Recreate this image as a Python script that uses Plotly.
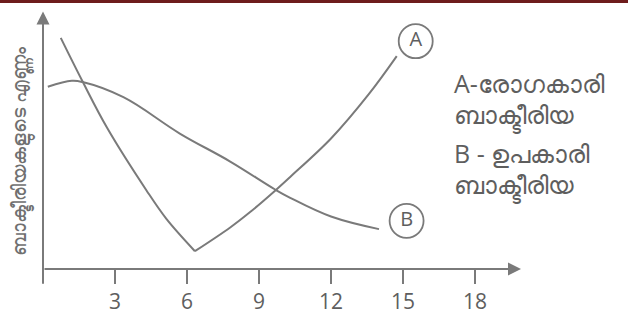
import plotly.graph_objects as go

# Days on the x axis, relative bacteria count on the y axis
day_ticks = [3, 6, 9, 12, 15, 18]

days_A = [0.74, 1.65, 2.67, 4.32, 5.15, 6.33, 7.8, 8.63, 9.67, 10.3, 12.0, 13.6, 14.74]
count_A = [9.74, 7.9, 5.95, 3.3, 2.1, 0.75, 1.75, 2.4, 3.3, 3.88, 5.5, 7.4, 8.97]

days_B = [0.2, 1.2, 1.65, 3.35, 5.7, 7.8, 9.67, 10.3, 12.0, 14.0]
count_B = [7.68, 7.93, 7.88, 7.24, 5.71, 4.53, 3.35, 3.0, 2.21, 1.68]

curve_labels = ["A", "B"]
label_days = [15.53, 15.15]
label_counts = [9.6, 2.03]

y_title = "ബാക്ടീരിയകളുടെ എണ്ണം"
key_lines = ["A-രോഗകാരി", "ബാക്ടീരിയ", "B - ഉപകാരി", "ബാക്ടീരിയ"]
key_rows = [7.83, 6.46, 4.88, 3.5]

INK = "#7a7a7a"
TEXT = "#5e5e5e"
FONT = "Open Sans, Noto Sans, DejaVu Sans, sans-serif"

X_MAX = 19.917
Y_MAX = 11.0

fig = go.Figure()

# Curve A has a sharp minimum, so draw its falling and rising parts separately
i_min = count_A.index(min(count_A))
for xs, ys in [(days_A[: i_min + 1], count_A[: i_min + 1]),
               (days_A[i_min:], count_A[i_min:])]:
    fig.add_trace(go.Scatter(x=xs, y=ys, mode="lines",
                             line=dict(color=INK, width=2, shape="spline", smoothing=1.0),
                             hoverinfo="skip", showlegend=False))

fig.add_trace(go.Scatter(x=days_B, y=count_B, mode="lines",
                         line=dict(color=INK, width=2, shape="spline", smoothing=1.1),
                         hoverinfo="skip", showlegend=False))

# Circled curve labels
fig.add_trace(go.Scatter(x=label_days, y=label_counts, mode="markers+text",
                         text=curve_labels, textposition="middle center",
                         textfont=dict(family=FONT, size=20, color=TEXT),
                         marker=dict(symbol="circle-open", size=34,
                                     line=dict(color=INK, width=1.8), color=INK),
                         hoverinfo="skip", showlegend=False, cliponaxis=False))

annotations = []
# x axis with arrowhead
annotations.append(dict(x=X_MAX, y=0, ax=0, ay=0, xref="x", yref="y", axref="x", ayref="y",
                        showarrow=True, arrowhead=2, arrowsize=1.3, arrowwidth=2,
                        arrowcolor=INK, text=""))
# y axis with arrowhead, extending a little below the x axis
annotations.append(dict(x=0, y=Y_MAX - 0.15, ax=0, ay=-0.68, xref="x", yref="y", axref="x", ayref="y",
                        showarrow=True, arrowhead=2, arrowsize=1.3, arrowwidth=2,
                        arrowcolor=INK, text=""))
# rotated y axis title
annotations.append(dict(x=-0.046, y=0.45, xref="paper", yref="paper", text=y_title, textangle=-90,
                        xanchor="center", yanchor="middle", showarrow=False,
                        font=dict(family=FONT, size=19, color="#707070")))
# key text on the right
for line, row in zip(key_lines, key_rows):
    annotations.append(dict(x=0.8556, y=row / Y_MAX, xref="paper", yref="paper",
                            text=line, xanchor="left", yanchor="middle", showarrow=False,
                            font=dict(family=FONT, size=25, color=TEXT)))

fig.update_layout(
    width=628, height=323,
    margin=dict(l=43, r=107, t=8, b=51),
    paper_bgcolor="white", plot_bgcolor="white",
    annotations=annotations,
    shapes=[dict(type="rect", xref="paper", yref="paper", x0=-0.2, x1=1.3,
                 y0=1.0189, y1=1.04, fillcolor="#6e1c1c", line=dict(width=0), layer="above")],
    xaxis=dict(range=[0, X_MAX], showgrid=False, zeroline=False, showline=False,
               tickmode="array", tickvals=day_ticks, ticktext=[str(t) for t in day_ticks],
               ticks="outside", ticklen=14, tickwidth=1.6, tickcolor=INK,
               tickfont=dict(family=FONT, size=21, color=TEXT)),
    yaxis=dict(range=[0, Y_MAX], showgrid=False, zeroline=False, showline=False,
               showticklabels=False, ticks=""),
)

fig.write_html("out.html")
